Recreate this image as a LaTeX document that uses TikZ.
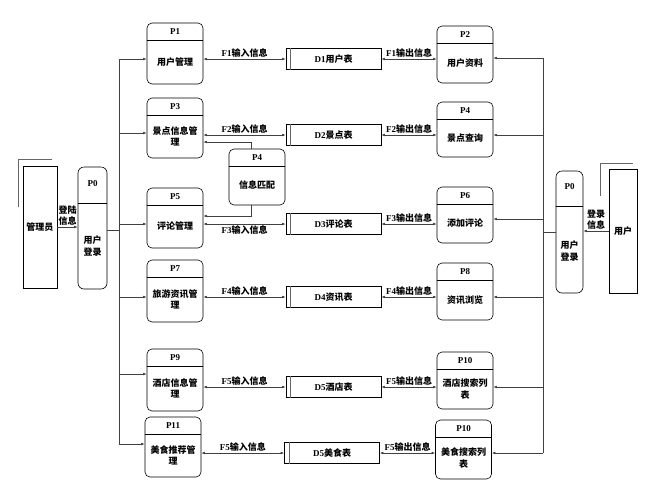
\documentclass[tikz,border=0pt]{standalone}
\usepackage{fontspec}
\setmainfont{Liberation Serif}
\newfontfamily\cjk{Noto Sans CJK SC}
\newcommand{\zh}[1]{{\cjk #1}}
\usetikzlibrary{arrows.meta,calc}

\begin{document}
\begin{tikzpicture}[
x=1pt, y=-1pt,
>={Latex[length=3.5pt,width=2.6pt]},
line/.style={draw=black!75, line width=0.6pt},
txt/.style={font=\fontsize{9}{11.5}\selectfont\bfseries, align=center, inner sep=1pt},
flow/.style={txt, inner sep=1.2pt},
proc/.style={draw, rounded corners=5pt, minimum width=56pt, inner sep=0pt, line width=0.6pt},
store/.style={draw, minimum width=95pt, minimum height=21pt, inner sep=0pt, line width=0.6pt},
ent/.style={draw, inner sep=0pt, line width=0.6pt}
]
\useasboundingbox (0,0) rectangle (656,483);

% processes
\foreach \n/\cx/\ya/\yb/\id/\txt in {
p1/175/23/84/P1/{\zh{用户管理}},
p3/175/98/158/P3/{\zh{景点信息管}\\\zh{理}},
p5/175/188/248/P5/{\zh{评论管理}},
p7/175/260/322/P7/{\zh{旅游资讯管}\\\zh{理}},
p9/175/349/411/P9/{\zh{酒店信息管}\\\zh{理}},
p11/173/417/477/P11/{\zh{美食推荐管}\\\zh{理}},
p2/465/26/83/P2/{\zh{用户资料}},
p4/465/102/157/P4/{\zh{景点查询}},
p6/465/187/243/P6/{\zh{添加评论}},
p8/465/263/320/P8/{\zh{资讯浏览}},
p10/465/352/409/P10/{\zh{酒店搜索列}\\\zh{表}},
p12/463.5/420/479/P10/{\zh{美食搜索列}\\\zh{表}},
match/257/149/205/P4/{\zh{信息匹配}}}
{
\node[proc, minimum height={\yb-\ya}] (\n) at (\cx,{(\ya+\yb)/2}) {};
\draw ($(\n.north west)+(0,17)$) -- ($(\n.north east)+(0,17)$);
\node[txt] (\n-id) at (\cx,{\ya+8.5}) {\id};
\node[txt] (\n-t) at (\cx,{(\ya+17+\yb)/2}) {\txt};
}

% data stores
\foreach \n/\cx/\cy/\txt in {
D1/333.5/59/{D1\zh{用户表}},
D2/333.5/135/{D2\zh{景点表}},
D3/333.5/224/{D3\zh{评论表}},
D4/333.5/297/{D4\zh{资讯表}},
D5/333.5/387/{D5\zh{酒店表}},
D6/332/453/{D5\zh{美食表}}}
{
\node[txt, store] (\n) at (\cx,\cy) {\txt};
\draw[draw=black!60, line width=1.2pt] ($(\n.north west)+(5,0)$) -- ($(\n.south west)+(5,0)$);
}

% flows
\foreach \a/\d/\b/\k/\an in {p1/D1/p2/1/south, p3/D2/p4/2/south, p5/D3/p6/3/north,
p7/D4/p8/4/south, p9/D5/p10/5/south, p11/D6/p12/5/south}
{
\draw[line,<->] (\a.east |- \d) -- node[flow, anchor=\an] {F\k\zh{输入信息}} (\d.west);
\draw[line,<->] (\d.east) -- node[flow, anchor=south] {F\k\zh{输出信息}} (\b.west |- \d);
}

% matching
\coordinate (m-up) at (251,142);
\coordinate (m-dn) at (251,216);
\draw[line,->] (match.north -| m-up) |- (p3.east |- m-up);
\draw[line,->] (match.south -| m-dn) |- (p5.east |- m-dn);

% administrator side
\node[ent, txt, minimum width=34pt, minimum height=122pt] (admin) at (40,227) {\zh{管理员}};
\draw[draw=black!60] (18,207) -- (18,159) -- (52,159);
\node[proc, rounded corners=6pt, minimum width=29pt, minimum height=122pt] (login-a) at (92.5,228) {};
\draw ($(login-a.north west)+(0,36)$) -- ($(login-a.north east)+(0,36)$);
\node[txt] (login-a-id) at (92.5,184) {P0};
\node[txt] (login-a-t) at (92.5,246) {\zh{用户}\\\zh{登录}};
\draw[line,->] (admin.east) -- node[flow, anchor=south] {\zh{登陆}\\\zh{信息}} (admin.east -| login-a.west);

\foreach \n/\y in {p1/59,p3/133,p5/224,p7/297,p9/374,p11/444}{
\coordinate (l-\n) at (119,\y);
\draw[line,->] (l-\n) -- (l-\n -| \n.west);
}
\draw[line] (l-p1) -- (l-p11);
\coordinate (l-in) at (119,230);
\draw[line] (l-in -| login-a.east) -- (l-in);

% user side
\node[ent, txt, minimum width=28pt, minimum height=124pt] (user) at (623,231) {\zh{用户}};
\draw[draw=black!60] (600,196) -- (600,163) -- (633,163);
\node[proc, rounded corners=6pt, minimum width=27pt, minimum height=122pt] (login-u) at (569.5,232) {};
\draw ($(login-u.north west)+(0,35)$) -- ($(login-u.north east)+(0,35)$);
\node[txt] (login-u-id) at (569.5,187) {P0};
\node[txt] (login-u-t) at (569.5,251) {\zh{用户}\\\zh{登录}};
\draw[line,->] (user.west) -- node[flow, anchor=south] {\zh{登录}\\\zh{信息}} (user.west -| login-u.east);

\foreach \n/\y in {p2/58,p4/135,p6/219,p8/297,p10/387,p12/453}{
\coordinate (r-\n) at (543,\y);
\draw[line,->] (r-\n) -- (r-\n -| \n.east);
}
\draw[line] (r-p2) -- (r-p12);
\coordinate (r-in) at (543,232);
\draw[line] (r-in -| login-u.west) -- (r-in);

\end{tikzpicture}
\end{document}
